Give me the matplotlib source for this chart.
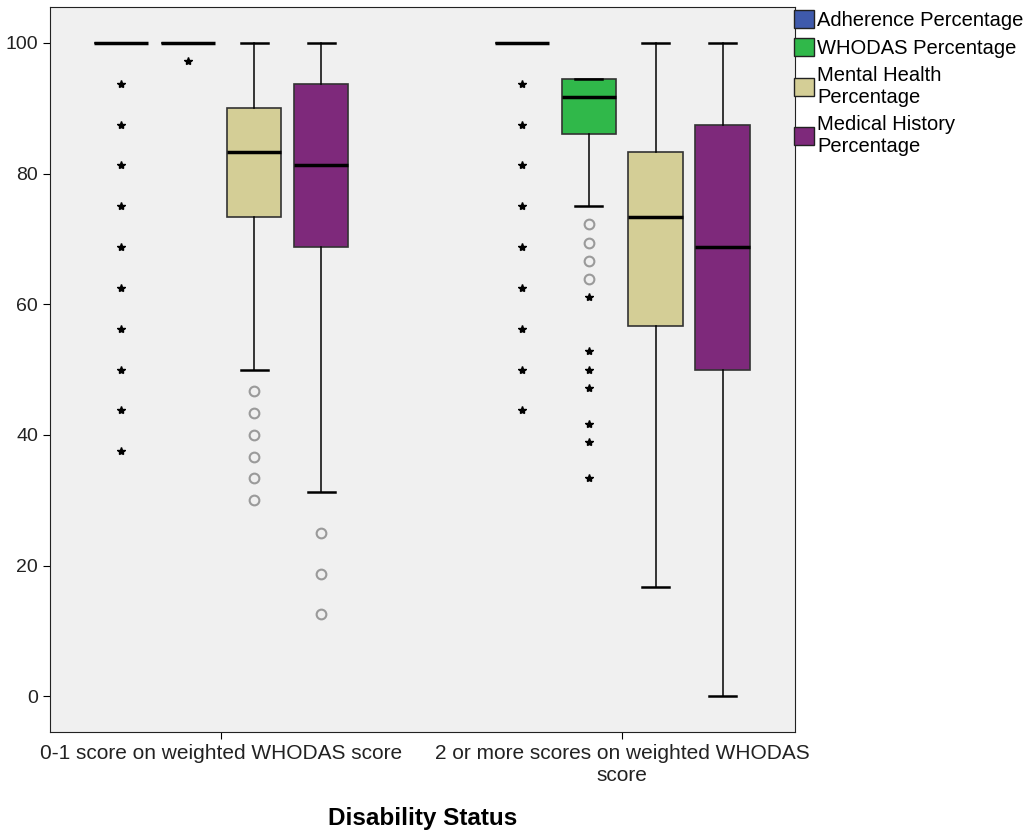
import numpy as np
import matplotlib
matplotlib.use('Agg')
import matplotlib.pyplot as plt
from matplotlib.patches import Patch

plt.rcParams['font.family'] = ['Liberation Sans', 'DejaVu Sans']

# groups on the x axis
groups = ['0-1 score on weighted WHODAS score',
          '2 or more scores on weighted WHODAS\nscore']
series = ['Adherence Percentage', 'WHODAS Percentage',
          'Mental Health Percentage', 'Medical History Percentage']
legend_labels = ['Adherence Percentage', 'WHODAS Percentage',
                 'Mental Health\nPercentage', 'Medical History\nPercentage']
colors = ['#3f5aac', '#30b84a', '#d4ce96', '#7e297b']

# box statistics per series: [group 1, group 2]
q1 = [[100, 100, 73.33, 68.75], [100, 86.11, 56.67, 50.0]]
med = [[100, 100, 83.33, 81.25], [100, 91.67, 73.33, 68.75]]
q3 = [[100, 100, 90.0, 93.75], [100, 94.44, 83.33, 87.5]]
whislo = [[100, 100, 50.0, 31.25], [100, 75.0, 16.67, 0.0]]
whishi = [[100, 100, 100, 100], [100, 94.44, 100, 100]]

# outliers (circles) and extremes (stars)
circles = [
    [[], [], [46.67, 43.33, 40.0, 36.67, 33.33, 30.0], [25.0, 18.75, 12.5]],
    [[], [72.22, 69.44, 66.67, 63.89], [], []],
]
stars = [
    [[93.75, 87.5, 81.25, 75.0, 68.75, 62.5, 56.25, 50.0, 43.75, 37.5],
     [97.22], [], []],
    [[93.75, 87.5, 81.25, 75.0, 68.75, 62.5, 56.25, 50.0, 43.75],
     [61.11, 52.78, 50.0, 47.22, 41.67, 38.89, 33.33], [], []],
]

offsets = [-0.25, -0.083, 0.083, 0.25]
box_w = 0.135

fig = plt.figure(figsize=(10.34, 8.3), dpi=100)
ax = fig.add_axes([0.0484, 0.118, 0.7206, 0.8735])
ax.set_facecolor('#f0f0f0')

for g in range(len(groups)):
    for s in range(len(series)):
        pos = g + offsets[s]
        st = dict(med=med[g][s], q1=q1[g][s], q3=q3[g][s],
                  whislo=whislo[g][s], whishi=whishi[g][s], fliers=[])
        ax.bxp([st], positions=[pos], widths=box_w, capwidths=box_w / 2,
               showfliers=False, patch_artist=True,
               boxprops=dict(facecolor=colors[s], edgecolor='#333333', linewidth=1.2),
               medianprops=dict(color='black', linewidth=2.5),
               whiskerprops=dict(color='black', linewidth=1.1),
               capprops=dict(color='black', linewidth=1.8))
        if circles[g][s]:
            ax.plot([pos] * len(circles[g][s]), circles[g][s], 'o',
                    mfc='none', mec='#9a9a9a', mew=1.5, ms=7)
        if stars[g][s]:
            ax.plot([pos] * len(stars[g][s]), stars[g][s], '*',
                    color='black', ms=6)

ax.set_xlim(-0.426, 1.431)
ax.set_ylim(-5.5, 105.5)
ax.set_xticks(range(len(groups)))
ax.set_xticklabels(groups, fontsize=15, color='#222222')
ax.set_yticks([0, 20, 40, 60, 80, 100])
ax.tick_params(axis='y', labelsize=14, labelcolor='#222222', length=5)
ax.tick_params(axis='x', length=5)
for sp in ax.spines.values():
    sp.set_color('#222222')
ax.set_xlabel('Disability Status', fontsize=17.5, fontweight='bold', labelpad=16)

handles = [Patch(facecolor=c, edgecolor='#222222') for c in colors]
fig.legend(handles, legend_labels, loc='upper left',
           bbox_to_anchor=(0.768, 0.988), frameon=False, fontsize=14.5,
           handlelength=1.0, handleheight=1.0, handletextpad=0.15,
           labelspacing=0.4, borderaxespad=0, borderpad=0)

fig.savefig('out.png', dpi=100)
